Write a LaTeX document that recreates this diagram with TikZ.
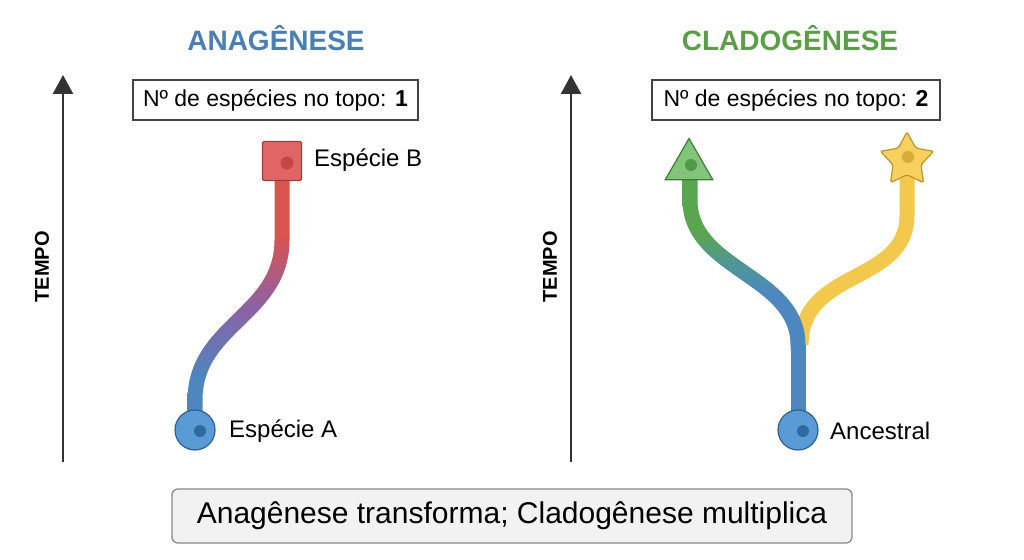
\documentclass[tikz,border=0pt]{standalone}
\usepackage{fontspec}
\setmainfont{Liberation Sans}
\usetikzlibrary{arrows.meta,shapes.geometric}

\definecolor{blueP}{HTML}{4C87C0}
\definecolor{purpleP}{HTML}{8B62A6}
\definecolor{redP}{HTML}{D9534F}
\definecolor{greenP}{HTML}{5AA64E}
\definecolor{tealP}{HTML}{4F9698}
\definecolor{yellowP}{HTML}{F2C94C}
\definecolor{circF}{HTML}{5B9BD5}
\definecolor{circB}{HTML}{2F5F8F}
\definecolor{circD}{HTML}{2E6A9E}
\definecolor{sqF}{HTML}{E06666}
\definecolor{sqB}{HTML}{A33A3A}
\definecolor{sqD}{HTML}{C94444}
\definecolor{triF}{HTML}{82C47A}
\definecolor{triB}{HTML}{3E7D36}
\definecolor{triD}{HTML}{4F9A46}
\definecolor{starF}{HTML}{F7D060}
\definecolor{starB}{HTML}{BF9326}
\definecolor{starD}{HTML}{D9AA35}
\definecolor{titleB}{HTML}{4A7FB5}
\definecolor{titleG}{HTML}{5A9E48}
\definecolor{axisc}{HTML}{333333}
\definecolor{boxc}{HTML}{444444}
\definecolor{botF}{HTML}{F2F2F2}
\definecolor{botB}{HTML}{8A8A8A}

% vertical shadings (the shaded rectangle covers 25bp .. 75bp)
\pgfdeclareverticalshading{anash}{100bp}{color(0bp)=(blueP); color(37.5bp)=(blueP); color(49.5bp)=(purpleP); color(61.5bp)=(redP); color(100bp)=(redP)}
\pgfdeclareverticalshading{cladsh}{100bp}{color(0bp)=(blueP); color(41bp)=(blueP); color(49bp)=(tealP); color(57bp)=(greenP); color(100bp)=(greenP)}

\pgfmathdeclarefunction{bz}{5}{%
  \pgfmathparse{(1-#1)*(1-#1)*(1-#1)*#2+3*(1-#1)*(1-#1)*#1*#3+3*(1-#1)*#1*#1*#4+#1*#1*#1*#5}}
% derivative, divided by 100 to keep numbers small
\pgfmathdeclarefunction{bzd}{5}{%
  \pgfmathparse{(3*(1-#1)*(1-#1)*(#3-#2)+6*(1-#1)*#1*(#4-#3)+3*#1*#1*(#5-#4))/100}}

% outline (half width 7.5) of a cubic curve: right side in \sideA, left side (reversed) in \sideB
\newcommand\mkoutline[8]{%
  \gdef\sideA{}\gdef\sideB{}%
  \foreach \i in {0,...,80}{%
    \pgfmathsetmacro\tq{\i/80}%
    \pgfmathsetmacro\bxq{bz(\tq,#1,#3,#5,#7)}%
    \pgfmathsetmacro\byq{bz(\tq,#2,#4,#6,#8)}%
    \pgfmathsetmacro\dxq{bzd(\tq,#1,#3,#5,#7)}%
    \pgfmathsetmacro\dyq{bzd(\tq,#2,#4,#6,#8)}%
    \pgfmathsetmacro\lq{sqrt(\dxq*\dxq+\dyq*\dyq)}%
    \pgfmathsetmacro\nxq{-7.5*\dyq/\lq}%
    \pgfmathsetmacro\nyq{7.5*\dxq/\lq}%
    \pgfmathsetmacro\axq{\bxq+\nxq}\pgfmathsetmacro\ayq{\byq+\nyq}%
    \pgfmathsetmacro\cxq{\bxq-\nxq}\pgfmathsetmacro\cyq{\byq-\nyq}%
    \xdef\sideA{\sideA -- (\axq,\ayq)}%
    \xdef\sideB{ -- (\cxq,\cyq)\sideB}%
  }}

\begin{document}
\begin{tikzpicture}[x=1pt,y=-1pt,
  axis/.style={draw=axisc, line width=2.4pt, -{Triangle[width=20pt,length=19pt]}},
  title/.style={font=\fontsize{28}{30}\selectfont\bfseries},
  countbox/.style={draw=boxc, line width=1.2pt, fill=white, minimum height=40pt, inner sep=0pt, font=\fontsize{23}{26}\selectfont},
  lbl/.style={anchor=west, inner sep=0pt, font=\fontsize{24}{27}\selectfont},
  tempo/.style={rotate=90, font=\fontsize{20}{22}\selectfont\bfseries},
  dotn/.style={circle, inner sep=0pt, minimum size=12pt},
  stem/.style={line width=15pt},
  spA/.style={circle, minimum size=40pt, inner sep=0pt, fill=circF, draw=circB, line width=1.2pt},
]
\useasboundingbox (0,0) rectangle (1024,559);
\fill[white] (0,0) rectangle (1024,559);

% ---------- axes ----------
\coordinate (ax1b) at (63,462);
\coordinate (ax1t) at (63,75);
\coordinate (ax2b) at (571,462);
\coordinate (ax2t) at (571,75);
\draw[axis] (ax1b) -- (ax1t);
\draw[axis] (ax2b) -- (ax2t);
\node[tempo] (tempo1) at (42,267) {TEMPO};
\node[tempo] (tempo2) at (550,267) {TEMPO};

% ---------- titles ----------
\node[title, text=titleB] (t1) at (276,38) {ANAGÊNESE};
\node[title, text=titleG] (t2) at (790,38) {CLADOGÊNESE};

% ---------- count boxes ----------
\node[countbox, minimum width=285pt] (c1) at (275.5,100) {Nº de espécies no topo: \textbf{1}};
\node[countbox, minimum width=288pt] (c2) at (796,100) {Nº de espécies no topo: \textbf{2}};

% ---------- anagenese stem (gradient blue -> purple -> red) ----------
\coordinate (pA) at (195,430);
\coordinate (pB) at (282,161);
\mkoutline{195}{400}{195}{325}{282}{315}{282}{240}
\edef\clipcmd{\noexpand\clip (202.5,430) \sideA -- (289.5,161) -- (274.5,161) \sideB -- (187.5,430) -- cycle;}
\begin{scope}
  \clipcmd
  \shade[shading=anash] (170,155) rectangle (310,455);
\end{scope}

\node[spA] (A) at (pA) {};
\node[dotn, fill=circD] (Adot) at (200,431) {};
\node[rectangle, minimum size=39pt, inner sep=0pt, fill=sqF, draw=sqB, line width=1.2pt, rounded corners=1.5pt] (B) at (pB) {};
\node[dotn, fill=sqD, minimum size=13pt] (Bdot) at (287,163) {};
\node[lbl] (lA) at (229,431) {Espécie A};
\node[lbl] (lB) at (314,160) {Espécie B};

% ---------- cladogenese ----------
\coordinate (pC) at (798,430);
\coordinate (j) at (798,345);
\coordinate (jy) at (801,345);
\coordinate (pS) at (907,160);
\coordinate (pG) at (689,166);
% yellow branch (behind)
\draw[stem, yellowP] (jy) .. controls (801,268) and (907,285) .. (907,215) -- (pS);
% trunk
\draw[stem, blueP] (pC) -- (j);
% green branch (gradient blue -> teal -> green)
\mkoutline{798}{345}{798}{275}{690}{270}{690}{200}
\edef\clipcmd{\noexpand\clip (805.5,350) \sideA -- (697.5,172) -- (682.5,172) \sideB -- (790.5,350) -- cycle;}
\begin{scope}
  \clipcmd
  \shade[shading=cladsh] (675,160) rectangle (815,360);
\end{scope}

\node[spA] (C) at (pC) {};
\node[dotn, fill=circD] (Cdot) at (803,431) {};
\node[regular polygon, regular polygon sides=3, minimum size=55pt, inner sep=0pt, fill=triF, draw=triB, line width=1.2pt] (G) at (pG) {};
\node[dotn, fill=triD, minimum size=12pt] (Gdot) at (691,165) {};
\node[star, star points=5, star point ratio=1.9, minimum size=56pt, inner sep=0pt, fill=starF, draw=starB, line width=1.2pt, rounded corners=2pt] (S) at (pS) {};
\node[dotn, fill=starD, minimum size=12pt] (Sdot) at (908,157) {};
\node[lbl] (lC) at (830,431) {Ancestral};

% ---------- bottom box ----------
\node[draw=botB, fill=botF, line width=1.3pt, rounded corners=6pt, minimum width=680pt, minimum height=54pt, inner sep=0pt, font=\fontsize{30}{32}\selectfont] (bot) at (512,516) {Anagênese transforma; Cladogênese multiplica};
\end{tikzpicture}
\end{document}
